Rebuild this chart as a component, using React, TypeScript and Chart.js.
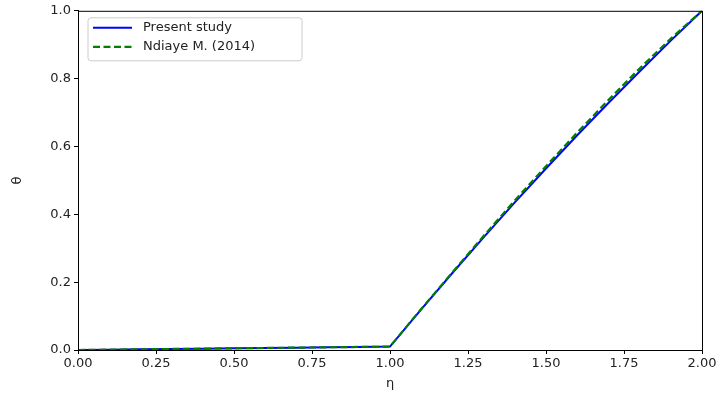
import React, { useEffect, useRef } from "react";
import { Chart, registerables } from "chart.js";

Chart.register(...registerables);

const etaPresent = [0, 0.1, 0.2, 0.3, 0.4, 0.5, 0.6, 0.7, 0.8, 0.9, 1.0, 1.1, 1.2, 1.3, 1.4, 1.5, 1.6, 1.7, 1.8, 1.9, 2.0];
const thetaPresent = [0, 0.001, 0.002, 0.003, 0.004, 0.005, 0.006, 0.007, 0.008, 0.009, 0.010, 0.120, 0.227, 0.332, 0.435, 0.535, 0.633, 0.728, 0.821, 0.912, 1.0];
const etaNdiaye = [0, 0.1, 0.2, 0.3, 0.4, 0.5, 0.6, 0.7, 0.8, 0.9, 1.0, 1.1, 1.2, 1.3, 1.4, 1.5, 1.6, 1.7, 1.8, 1.9, 2.0];
const thetaNdiaye = [0, 0.001, 0.002, 0.003, 0.004, 0.005, 0.006, 0.007, 0.008, 0.009, 0.010, 0.121, 0.229, 0.336, 0.441, 0.542, 0.641, 0.737, 0.830, 0.918, 1.0];
const seriesLabels = ["Present study", "Ndiaye M. (2014)"];
const xTitle = "η";
const yTitle = "θ";

const FONT = "'DejaVu Sans', sans-serif";
const TEXT = "#222";

const boxAndLegend = {
  id: "boxAndLegend",
  afterDraw(chart: any) {
    const { ctx, chartArea } = chart;
    ctx.save();
    ctx.strokeStyle = "#000";
    ctx.lineWidth = 1;
    ctx.strokeRect(chartArea.left + 0.5, chartArea.top + 0.5, chartArea.right - chartArea.left, chartArea.bottom - chartArea.top);
    // legend
    const x0 = chartArea.left + 10, y0 = chartArea.top + 7, w = 214, h = 43;
    ctx.fillStyle = "rgba(255,255,255,0.85)";
    ctx.strokeStyle = "#cccccc";
    ctx.beginPath();
    const r = 3;
    ctx.moveTo(x0 + r, y0);
    ctx.lineTo(x0 + w - r, y0);
    ctx.quadraticCurveTo(x0 + w, y0, x0 + w, y0 + r);
    ctx.lineTo(x0 + w, y0 + h - r);
    ctx.quadraticCurveTo(x0 + w, y0 + h, x0 + w - r, y0 + h);
    ctx.lineTo(x0 + r, y0 + h);
    ctx.quadraticCurveTo(x0, y0 + h, x0, y0 + h - r);
    ctx.lineTo(x0, y0 + r);
    ctx.quadraticCurveTo(x0, y0, x0 + r, y0);
    ctx.closePath();
    ctx.fill();
    ctx.stroke();
    chart.data.datasets.forEach((ds: any, i: number) => {
      const yy = y0 + 10 + i * 19;
      ctx.strokeStyle = ds.borderColor;
      ctx.lineWidth = ds.borderWidth;
      ctx.setLineDash(ds.borderDash || []);
      ctx.beginPath();
      ctx.moveTo(x0 + 5, yy);
      ctx.lineTo(x0 + 44, yy);
      ctx.stroke();
      ctx.setLineDash([]);
      ctx.fillStyle = TEXT;
      ctx.font = `13px ${FONT}`;
      ctx.textBaseline = "middle";
      ctx.textAlign = "left";
      ctx.fillText(ds.label, x0 + 55, yy);
    });
    ctx.restore();
  },
};

export default function App() {
  const ref = useRef<HTMLCanvasElement>(null);
  useEffect(() => {
    document.body.style.margin = "0";
    const chart = new Chart(ref.current!, {
      type: "line",
      data: {
        datasets: [
          {
            label: seriesLabels[0],
            data: etaPresent.map((x, i) => ({ x, y: thetaPresent[i] })),
            borderColor: "#0000ff",
            borderWidth: 2,
            pointRadius: 0,
            fill: false,
            order: 2,
          },
          {
            label: seriesLabels[1],
            data: etaNdiaye.map((x, i) => ({ x, y: thetaNdiaye[i] })),
            borderColor: "#008000",
            borderWidth: 2.2,
            borderDash: [7, 3.5],
            pointRadius: 0,
            fill: false,
            order: 1,
          },
        ],
      },
      options: {
        animation: false,
        responsive: false,
        maintainAspectRatio: false,
        layout: { padding: { left: 0, right: 20, top: 7, bottom: 0 } },
        plugins: { legend: { display: false }, tooltip: { enabled: false } },
        scales: {
          x: {
            type: "linear",
            min: 0,
            max: 2,
            afterFit: (s: any) => { s.height = 43; },
            ticks: {
              stepSize: 0.25,
              color: TEXT,
              font: { family: FONT, size: 13 },
              padding: 2,
              maxRotation: 0,
              callback: (v: any) => Number(v).toFixed(2),
            },
            grid: { drawOnChartArea: false, drawTicks: true, tickLength: 4, color: "#000" },
            border: { color: "#000" },
            title: { display: true, text: xTitle, color: TEXT, font: { family: FONT, size: 13 }, padding: { top: 0, bottom: 2 } },
          },
          y: {
            min: 0,
            max: 1,
            afterFit: (s: any) => { s.width = 78; },
            ticks: {
              stepSize: 0.2,
              color: TEXT,
              font: { family: FONT, size: 13 },
              padding: 3,
              callback: (v: any) => Number(v).toFixed(1),
            },
            grid: { drawOnChartArea: false, drawTicks: true, tickLength: 4, color: "#000" },
            border: { color: "#000" },
            title: { display: true, text: yTitle, color: TEXT, font: { family: FONT, size: 13 }, padding: { top: 10, bottom: 0 } },
          },
        },
      },
      plugins: [boxAndLegend],
    });
    return () => chart.destroy();
  }, []);
  return (
    <div style={{ width: 722, height: 393, background: "#fff" }}>
      <canvas ref={ref} width={722} height={393} />
    </div>
  );
}
